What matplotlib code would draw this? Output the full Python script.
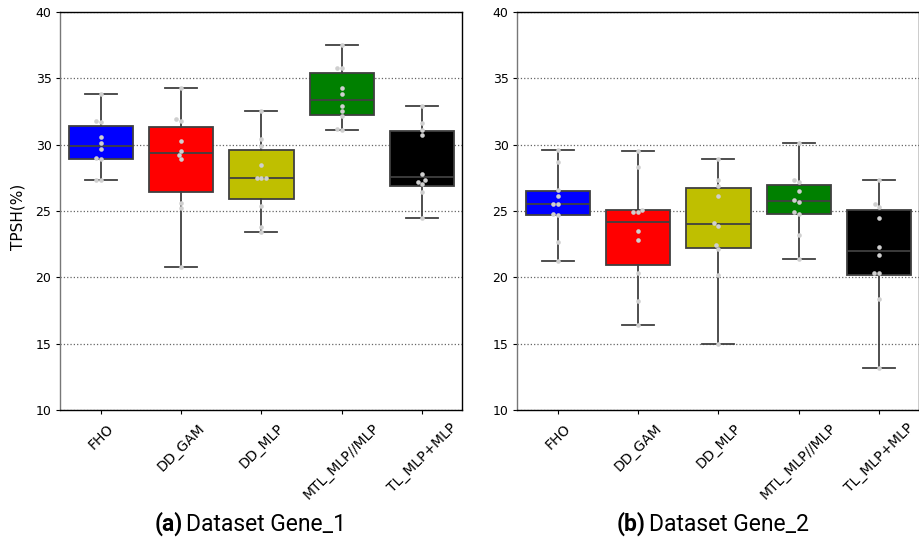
import matplotlib
matplotlib.use('Agg')
import matplotlib.pyplot as plt
import numpy as np
import pandas as pd
import seaborn as sns

methods = ['FHO', 'DD_GAM', 'DD_MLP', 'MTL_MLP//MLP', 'TL_MLP+MLP']
box_colors = ['#0000ff', '#ff0000', '#bfbf00', '#008000', '#000000']

# ---- Dataset Gene_1: box statistics ----
g1_whislo = [27.3, 20.8, 23.4, 31.1, 24.5]
g1_q1 = [28.9, 26.4, 25.9, 32.2, 26.9]
g1_med = [29.9, 29.35, 27.45, 33.35, 27.55]
g1_q3 = [31.4, 31.35, 29.6, 35.4, 31.0]
g1_whishi = [33.8, 34.3, 32.55, 37.5, 32.9]
# ---- Dataset Gene_1: individual runs ----
g1_fho = [33.8, 31.8, 31.7, 30.6, 30.1, 29.7, 29.0, 28.9, 27.35, 27.3]
g1_ddgam = [34.3, 31.9, 31.8, 30.3, 29.5, 29.2, 28.9, 25.6, 25.2, 20.8]
g1_ddmlp = [32.55, 30.45, 29.9, 28.5, 27.45, 27.45, 27.45, 25.4, 23.8, 23.4]
g1_mtl = [37.5, 35.8, 35.75, 34.3, 33.8, 32.9, 32.55, 32.15, 31.2, 31.1]
g1_tl = [32.9, 31.6, 31.1, 30.7, 27.8, 27.3, 27.15, 27.05, 26.4, 24.5]

# ---- Dataset Gene_2: box statistics ----
g2_whislo = [21.2, 16.4, 15.0, 21.4, 13.2]
g2_q1 = [24.7, 20.9, 22.2, 24.8, 20.2]
g2_med = [25.5, 24.2, 24.0, 25.75, 22.0]
g2_q3 = [26.5, 25.05, 26.7, 26.95, 25.1]
g2_whishi = [29.6, 29.5, 28.9, 30.1, 27.3]
# ---- Dataset Gene_2: individual runs ----
g2_fho = [29.6, 28.7, 26.6, 26.1, 25.5, 25.5, 24.8, 24.7, 22.7, 21.2]
g2_ddgam = [29.5, 28.3, 25.1, 24.9, 24.9, 23.5, 22.8, 20.3, 18.2, 16.4]
g2_ddmlp = [28.9, 27.3, 26.9, 26.1, 24.1, 23.9, 22.4, 22.1, 20.2, 15.0]
g2_mtl = [30.1, 27.3, 27.15, 26.5, 25.8, 25.7, 24.9, 24.8, 23.2, 21.4]
g2_tl = [27.3, 25.5, 25.3, 24.5, 22.3, 21.7, 20.3, 20.3, 18.4, 13.2]

yticks = [10, 15, 20, 25, 30, 35, 40]
ylabel = 'TPSH(%)'
captions = [('(a)', 'Dataset Gene_1'), ('(b)', 'Dataset Gene_2')]

W, H = 920, 539
fig = plt.figure(figsize=(W / 100, H / 100), dpi=100)

ax_specs = [(60.5, 462.3), (517.5, 919.3)]
top_px, bot_px = 12, 410

line_col = '#404040'


def draw_panel(ax, whislo, q1, med, q3, whishi, runs):
    stats = []
    for i in range(len(methods)):
        stats.append(dict(whislo=whislo[i], q1=q1[i], med=med[i], q3=q3[i],
                          whishi=whishi[i], fliers=[], label=methods[i]))
    ax.grid(axis='y', linestyle=':', color='#666666', linewidth=0.9, zorder=0)
    ax.set_axisbelow(True)
    bp = ax.bxp(stats, positions=np.arange(len(methods)), widths=0.8,
                patch_artist=True, showfliers=False, manage_ticks=False,
                boxprops=dict(edgecolor=line_col, linewidth=1.3),
                medianprops=dict(color=line_col, linewidth=1.3),
                whiskerprops=dict(color=line_col, linewidth=1.3),
                capprops=dict(color=line_col, linewidth=1.3))
    for patch, c in zip(bp['boxes'], box_colors):
        patch.set_facecolor(c)
        patch.set_zorder(2)
    df = pd.DataFrame({
        'method': np.repeat(methods, [len(r) for r in runs]),
        'val': np.concatenate(runs),
    })
    sns.swarmplot(data=df, x='method', y='val', order=methods, ax=ax,
                  color='#cfcfcf', size=3.3, zorder=4)
    ax.set_xlim(-0.5, len(methods) - 0.5)
    ax.set_ylim(10, 40)
    ax.set_yticks(yticks)
    ax.set_xticks(np.arange(len(methods)))
    ax.set_xticklabels(methods, rotation=45, fontsize=10)
    ax.tick_params(axis='y', labelsize=9, length=3, width=0.8)
    ax.tick_params(axis='x', length=3, width=0.8, pad=5)
    ax.set_xlabel('')
    ax.set_ylabel('')
    for s in ['top', 'right', 'bottom']:
        ax.spines[s].set_color('black')
        ax.spines[s].set_linewidth(1.0)
    ax.spines['left'].set_color('#777777')
    ax.spines['left'].set_linewidth(1.0)


axes = []
for (x0, x1) in ax_specs:
    ax = fig.add_axes([x0 / W, 1 - bot_px / H, (x1 - x0) / W, (bot_px - top_px) / H])
    axes.append(ax)

draw_panel(axes[0], g1_whislo, g1_q1, g1_med, g1_q3, g1_whishi,
           [g1_fho, g1_ddgam, g1_ddmlp, g1_mtl, g1_tl])
draw_panel(axes[1], g2_whislo, g2_q1, g2_med, g2_q3, g2_whishi,
           [g2_fho, g2_ddgam, g2_ddmlp, g2_mtl, g2_tl])

fig.text(18 / W, 1 - 217 / H, ylabel, rotation=90, ha='center', va='center', fontsize=11)

cap_pos = [(182.5, 186), (645.5, 649)]
for (lab, txt), (xr, xl) in zip(captions, cap_pos):
    fig.text(xr / W, 1 - 531 / H, lab, ha='right', va='baseline',
             fontsize=16.5, fontweight='bold', family='Roboto')
    fig.text(xl / W, 1 - 531 / H, txt, ha='left', va='baseline',
             fontsize=16.5, family='Roboto')

fig.savefig('out.png', dpi=100)
